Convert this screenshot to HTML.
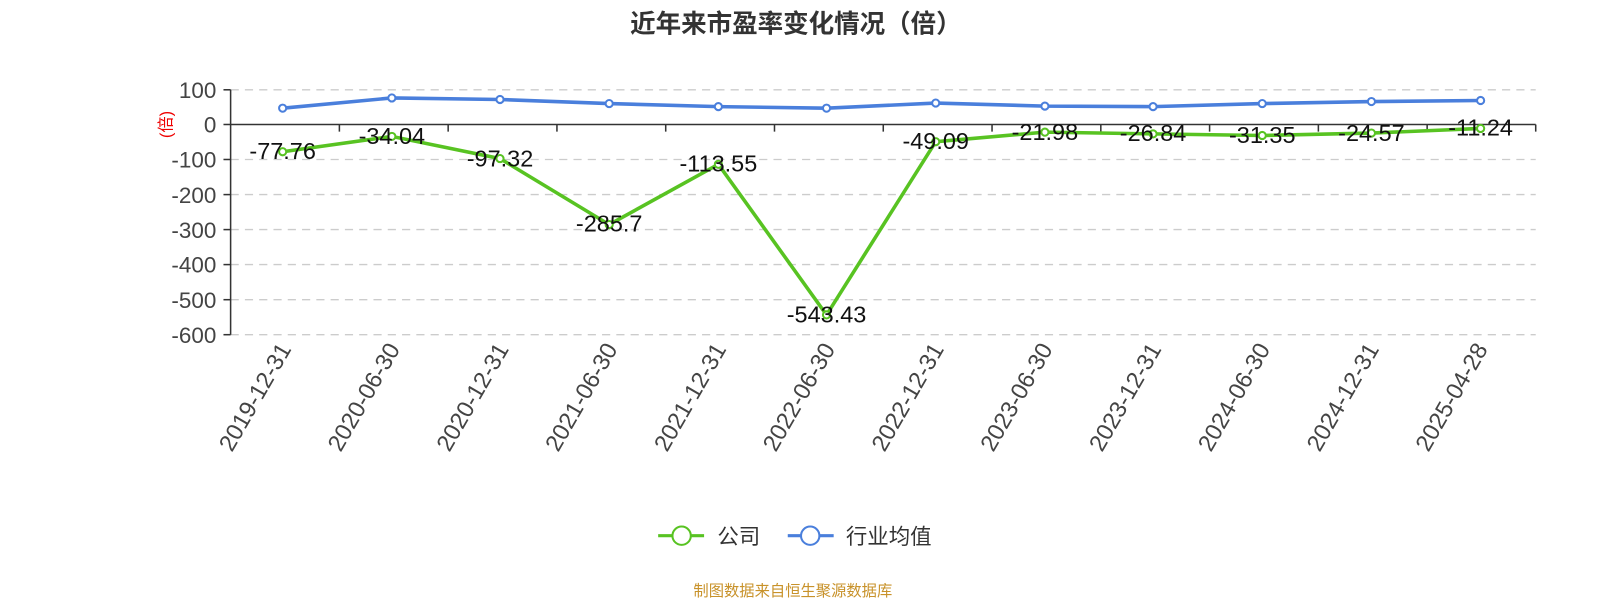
<!DOCTYPE html>
<html><head><meta charset="utf-8"><style>
body{margin:0;background:#fff;width:1600px;height:600px;overflow:hidden}
text{font-family:"Liberation Sans","Noto Sans CJK SC",sans-serif}
</style></head><body>
<svg width="1600" height="600" viewBox="0 0 1568 588" xmlns="http://www.w3.org/2000/svg">
<text x="780" y="32" text-anchor="middle" font-size="25" font-weight="bold" fill="#333">近年来市盈率变化情况（倍）</text>
<g stroke="#ccc" stroke-dasharray="8,6" stroke-width="1.3">
<line x1="226" y1="88" x2="1505" y2="88"/><line x1="226" y1="156.3" x2="1505" y2="156.3"/><line x1="226" y1="190.7" x2="1505" y2="190.7"/><line x1="226" y1="225" x2="1505" y2="225"/><line x1="226" y1="259.3" x2="1505" y2="259.3"/><line x1="226" y1="293.7" x2="1505" y2="293.7"/><line x1="226" y1="328" x2="1505" y2="328"/>
</g>
<g stroke="#333" stroke-width="1.5">
<line x1="226" y1="88" x2="226" y2="328"/>
<line x1="226" y1="122" x2="1505" y2="122"/>
<line x1="219" y1="88" x2="226" y2="88"/><line x1="219" y1="122" x2="226" y2="122"/><line x1="219" y1="156.3" x2="226" y2="156.3"/><line x1="219" y1="190.7" x2="226" y2="190.7"/><line x1="219" y1="225" x2="226" y2="225"/><line x1="219" y1="259.3" x2="226" y2="259.3"/><line x1="219" y1="293.7" x2="226" y2="293.7"/><line x1="219" y1="328" x2="226" y2="328"/>
<line x1="332.6" y1="122" x2="332.6" y2="129"/><line x1="439.2" y1="122" x2="439.2" y2="129"/><line x1="545.8" y1="122" x2="545.8" y2="129"/><line x1="652.4" y1="122" x2="652.4" y2="129"/><line x1="759" y1="122" x2="759" y2="129"/><line x1="865.6" y1="122" x2="865.6" y2="129"/><line x1="972.2" y1="122" x2="972.2" y2="129"/><line x1="1078.8" y1="122" x2="1078.8" y2="129"/><line x1="1185.4" y1="122" x2="1185.4" y2="129"/><line x1="1292" y1="122" x2="1292" y2="129"/><line x1="1398.6" y1="122" x2="1398.6" y2="129"/><line x1="1505" y1="122" x2="1505" y2="129"/>
</g>
<g font-size="22" fill="#444" text-anchor="end">
<text x="212" y="96">100</text><text x="212" y="130">0</text><text x="212" y="164">-100</text><text x="212" y="199">-200</text><text x="212" y="233">-300</text><text x="212" y="267">-400</text><text x="212" y="302">-500</text><text x="212" y="336">-600</text>
</g>
<text transform="translate(168,122) rotate(-90)" text-anchor="middle" font-size="16" fill="#e00">(倍)</text>
<g font-size="23" fill="#444" text-anchor="end">
<text transform="translate(286,342) rotate(-60)">2019-12-31</text>
<text transform="translate(392.6,342) rotate(-60)">2020-06-30</text>
<text transform="translate(499.2,342) rotate(-60)">2020-12-31</text>
<text transform="translate(605.8,342) rotate(-60)">2021-06-30</text>
<text transform="translate(712.4,342) rotate(-60)">2021-12-31</text>
<text transform="translate(819,342) rotate(-60)">2022-06-30</text>
<text transform="translate(925.6,342) rotate(-60)">2022-12-31</text>
<text transform="translate(1032.2,342) rotate(-60)">2023-06-30</text>
<text transform="translate(1138.8,342) rotate(-60)">2023-12-31</text>
<text transform="translate(1245.4,342) rotate(-60)">2024-06-30</text>
<text transform="translate(1352,342) rotate(-60)">2024-12-31</text>
<text transform="translate(1458.6,342) rotate(-60)">2025-04-28</text>
</g>
<polyline fill="none" stroke="#4a7fdc" stroke-width="3.5" points="277,106 384,96 490,97.5 597,101.5 704,104.5 810,106 917,101 1024,104 1130,104.5 1237,101.5 1344,99.5 1451,98.5"/>
<polyline fill="none" stroke="#58c322" stroke-width="3.5" points="277,148.7 384,133.7 490,155.4 597,220.1 704,161 810,308.6 917,138.9 1024,129.5 1130,131.2 1237,132.8 1344,130.4 1451,125.9"/>
<g fill="#fff" stroke="#4a7fdc" stroke-width="2">
<circle cx="277" cy="106" r="3.5"/><circle cx="384" cy="96" r="3.5"/><circle cx="490" cy="97.5" r="3.5"/><circle cx="597" cy="101.5" r="3.5"/><circle cx="704" cy="104.5" r="3.5"/><circle cx="810" cy="106" r="3.5"/><circle cx="917" cy="101" r="3.5"/><circle cx="1024" cy="104" r="3.5"/><circle cx="1130" cy="104.5" r="3.5"/><circle cx="1237" cy="101.5" r="3.5"/><circle cx="1344" cy="99.5" r="3.5"/><circle cx="1451" cy="98.5" r="3.5"/>
</g>
<g fill="#fff" stroke="#58c322" stroke-width="2">
<circle cx="277" cy="148.7" r="3.5"/><circle cx="384" cy="133.7" r="3.5"/><circle cx="490" cy="155.4" r="3.5"/><circle cx="597" cy="220.1" r="3.5"/><circle cx="704" cy="161" r="3.5"/><circle cx="810" cy="308.6" r="3.5"/><circle cx="917" cy="138.9" r="3.5"/><circle cx="1024" cy="129.5" r="3.5"/><circle cx="1130" cy="131.2" r="3.5"/><circle cx="1237" cy="132.8" r="3.5"/><circle cx="1344" cy="130.4" r="3.5"/><circle cx="1451" cy="125.9" r="3.5"/>
</g>
<g font-size="23" fill="#111" text-anchor="middle">
<text x="277" y="156">-77.76</text><text x="384" y="141">-34.04</text><text x="490" y="163">-97.32</text><text x="597" y="227">-285.7</text><text x="704" y="168">-113.55</text><text x="810" y="316">-543.43</text><text x="917" y="146">-49.09</text><text x="1024" y="137">-21.98</text><text x="1130" y="138">-26.84</text><text x="1237" y="140">-31.35</text><text x="1344" y="138">-24.57</text><text x="1451" y="133">-11.24</text>
</g>
<line x1="645" y1="525" x2="690" y2="525" stroke="#58c322" stroke-width="3"/>
<circle cx="668" cy="525" r="9" fill="#fff" stroke="#58c322" stroke-width="2"/>
<text x="703" y="533" font-size="21" fill="#333">公司</text>
<line x1="772" y1="525" x2="817" y2="525" stroke="#4a7fdc" stroke-width="3"/>
<circle cx="794" cy="525" r="9" fill="#fff" stroke="#4a7fdc" stroke-width="2"/>
<text x="829" y="533" font-size="21" fill="#333">行业均值</text>
<text x="777" y="584" text-anchor="middle" font-size="15" fill="#c8922a">制图数据来自恒生聚源数据库</text>
</svg>
</body></html>
